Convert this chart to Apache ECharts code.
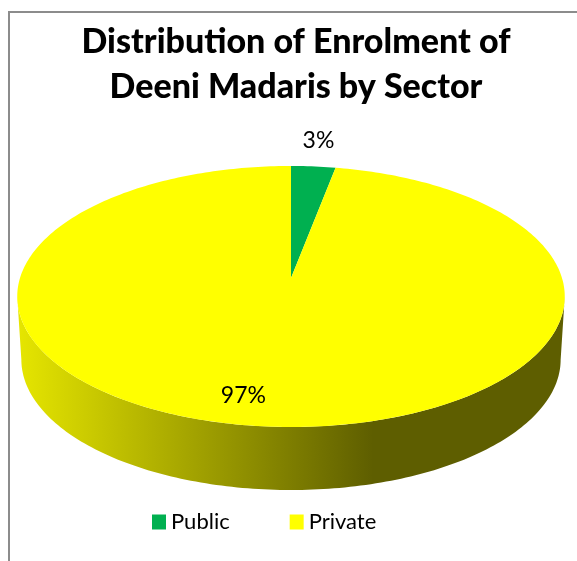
<!DOCTYPE html>
<html>
<head>
<meta charset="utf-8">
<script src="https://cdn.jsdelivr.net/npm/echarts@6/dist/echarts.min.js"></script>
<style>
html,body{margin:0;padding:0;background:#fff;}
#chart{width:577px;height:561px;}
</style>
</head>
<body>
<div id="chart"></div>
<script>
// ---- data ----
const titleText = 'Distribution of Enrolment of\nDeeni Madaris by Sector';
const categories = ['Public', 'Private'];
const values = [3, 97];
const colors = ['#00b050', '#ffff00'];

// ---- geometry of the tilted pie (perspective ellipse) ----
const CX = 291, CY = 278, A = 271, B = 127.9, K = 0.1417, H = 63, BOTTOM_SCALE = 0.985;
const total = values.reduce((a, b) => a + b, 0);
function cumStart(i) { let s = 0; for (let j = 0; j < i; j++) s += values[j]; return s / total * 360; }
function proj(deg, r, dropped) {
  const t = deg * Math.PI / 180;
  const u = Math.sin(t) * r, v = -Math.cos(t) * r;
  const w = 1 / (1 - K * v);
  const sx = dropped ? BOTTOM_SCALE : 1;
  return [CX + A * u * w * sx, CY + B * v * w + (dropped ? H : 0)];
}
function shade(hex, f) {
  const n = parseInt(hex.slice(1), 16);
  const r = Math.round(((n >> 16) & 255) * f), g = Math.round(((n >> 8) & 255) * f), b = Math.round((n & 255) * f);
  return 'rgb(' + r + ',' + g + ',' + b + ')';
}
const visLo = Math.acos(-K) * 180 / Math.PI, visHi = 360 - visLo;

function renderSide(params, api) {
  const i = params.dataIndex;
  const s = cumStart(i), e = s + api.value(0) / total * 360;
  const a0 = Math.max(s, visLo), a1 = Math.min(e, visHi);
  if (a1 <= a0) return null;
  const top = [], bot = [];
  const n = Math.max(2, Math.ceil(a1 - a0));
  for (let k = 0; k <= n; k++) {
    const d = a0 + (a1 - a0) * k / n;
    top.push(proj(d, 1, false));
    bot.push(proj(d, 1, true));
  }
  const pts = top.concat(bot.reverse());
  const c = colors[i];
  return {
    type: 'polygon',
    shape: { points: pts },
    style: {
      fill: new echarts.graphic.LinearGradient(17, 0, 565, 0, [
        { offset: 0, color: shade(c, 0.9) },
        { offset: 0.65, color: shade(c, 0.37) },
        { offset: 1, color: shade(c, 0.37) }
      ], true)
    }
  };
}

function makeTopRender(i) {
  return function (params, api) {
    const s = cumStart(i), e = s + api.value(0) / total * 360;
    const pts = [[CX, CY]];
    const n = Math.max(2, Math.ceil(e - s));
    for (let k = 0; k <= n; k++) pts.push(proj(s + (e - s) * k / n, 1, false));
    const mid = (s + e) / 2;
    const frac = api.value(0) / total;
    let lx, ly;
    if (frac < 0.1) {
      const p = proj(mid, 1, false);
      const dx = p[0] - CX, dy = p[1] - CY, len = Math.sqrt(dx * dx + dy * dy);
      lx = p[0] + dx / len * 26; ly = p[1] + dy / len * 26;
    } else {
      const p = proj(mid, 0.82, false);
      lx = p[0] - 24; ly = p[1];
    }
    return {
      type: 'group',
      children: [
        { type: 'polygon', shape: { points: pts }, style: { fill: colors[i] } },
        {
          type: 'text', x: lx, y: ly, z2: 10,
          style: {
            text: Math.round(frac * 100) + '%',
            fill: '#000', fontSize: 23, fontFamily: 'Lato',
            align: 'center', verticalAlign: 'middle'
          }
        }
      ]
    };
  };
}

const chart = echarts.init(document.getElementById('chart'), null, { renderer: 'canvas' });
const series = [{
  type: 'custom', name: 'side', coordinateSystem: 'none', silent: true,
  data: values.map(v => [v]), renderItem: renderSide, z: 1
}].concat(categories.map((name, i) => ({
  type: 'custom', name: name, coordinateSystem: 'none', silent: true,
  itemStyle: { color: colors[i] },
  data: [[values[i]]], renderItem: makeTopRender(i), z: 2
})));

chart.setOption({
  animation: false,
  backgroundColor: '#fff',
  title: {
    text: titleText, left: 291, top: 15, textAlign: 'center',
    textStyle: { fontFamily: 'Lato', fontWeight: 900, fontSize: 34, lineHeight: 45, color: '#000' }
  },
  legend: {
    data: categories, left: 147, top: 506, itemWidth: 14, itemHeight: 15, itemGap: 60,
    icon: 'rect', selectedMode: false,
    textStyle: { fontFamily: 'Lato', fontSize: 22, color: '#000' }
  },
  graphic: [{
    type: 'rect', silent: true, z: 100,
    shape: { x: 9, y: 12, width: 700, height: 700 },
    style: { fill: 'none', stroke: '#8c8c8c', lineWidth: 2 }
  }],
  series: series
});
</script>
</body>
</html>
